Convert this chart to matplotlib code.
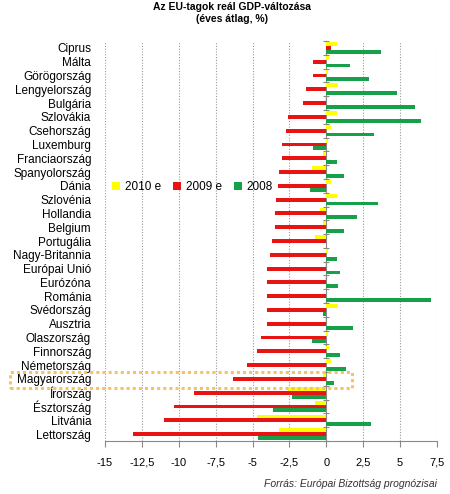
import numpy as np
import matplotlib
matplotlib.use("Agg")
import matplotlib.pyplot as plt
from matplotlib.patches import Rectangle

plt.rcParams['font.family'] = ['Liberation Sans', 'DejaVu Sans']

countries = ["Ciprus", "Málta", "Görögország", "Lengyelország", "Bulgária",
             "Szlovákia", "Csehország", "Luxemburg", "Franciaország",
             "Spanyolország", "Dánia", "Szlovénia", "Hollandia", "Belgium",
             "Portugália", "Nagy-Britannia", "Európai Unió", "Eurózóna",
             "Románia", "Svédország", "Ausztria", "Olaszország", "Finnország",
             "Németország", "Magyarország", "Írország", "Észtország",
             "Litvánia", "Lettország"]

gdp_2010 = [0.7, 0.2, 0.1, 0.8, -0.1, 0.7, 0.3, 0.1, -0.2, -1.0, 0.3, 0.7,
            -0.4, -0.2, -0.8, 0.1, -0.1, -0.1, 0.0, 0.8, -0.1, 0.1, 0.2,
            0.3, -0.2, -2.6, -0.8, -4.7, -3.2]
gdp_2009 = [0.3, -0.9, -0.9, -1.4, -1.6, -2.6, -2.7, -3.0, -3.0, -3.2, -3.3,
            -3.4, -3.5, -3.5, -3.7, -3.8, -4.0, -4.0, -4.0, -4.0, -4.0, -4.4,
            -4.7, -5.4, -6.3, -9.0, -10.3, -11.0, -13.1]
gdp_2008 = [3.7, 1.6, 2.9, 4.8, 6.0, 6.4, 3.2, -0.9, 0.7, 1.2, -1.1, 3.5,
            2.1, 1.2, 0.0, 0.7, 0.9, 0.8, 7.1, -0.2, 1.8, -1.0, 0.9, 1.3,
            0.5, -2.3, -3.6, 3.0, -4.6]

series = [("2010 e", gdp_2010, "#FFFF00"),
          ("2009 e", gdp_2009, "#E81414"),
          ("2008", gdp_2008, "#16A049")]

xticks = [-15, -12.5, -10, -7.5, -5, -2.5, 0, 2.5, 5, 7.5]

fig = plt.figure(figsize=(4.5, 4.94), dpi=100)
ax = fig.add_axes([105 / 450, 1 - 441 / 494, 332 / 450, 400 / 494])

y = np.arange(len(countries))
h = 0.28
for i, (name, vals, col) in enumerate(series):
    ax.barh(y + (i - 1) * h, vals, height=h, color=col, label=name, zorder=3)

ax.set_xlim(-15, 7.5)
ax.set_ylim(len(countries) - 0.5, -0.5)
ax.set_xticks(xticks)
ax.set_xticklabels([f"{t:g}".replace(".", ",") for t in xticks], fontsize=8)
ax.tick_params(axis="x", direction="out", length=4, color="#888888", pad=8)
ax.set_yticks(y)
ax.set_yticklabels(countries, fontsize=8.5)
ax.tick_params(axis="y", length=0, pad=10)

for t in xticks:
    if t != 0:
        ax.axvline(t, color="#999999", lw=0.8, ls=(0, (1, 1.5)), zorder=1)

for s in ["top", "right", "left"]:
    ax.spines[s].set_visible(False)
ax.spines["bottom"].set_color("#888888")

# zero axis with category tick marks
zero = ax.secondary_yaxis(15 / 22.5)
zero.set_yticks(np.arange(len(countries) + 1) - 0.5)
zero.set_yticklabels([])
zero.tick_params(direction="inout", length=4, color="#888888")
zero.spines["right"].set_color("#888888")
zero.spines["left"].set_color("#888888")

ax.legend(loc="center left", bbox_to_anchor=(0.0, 0.635), ncol=3, frameon=False,
          fontsize=8.5, handlelength=0.7, handleheight=0.7, columnspacing=1.0,
          handletextpad=0.4, borderaxespad=0.2)

# highlight box around Magyarország
fig.add_artist(Rectangle((10 / 450, 1 - 388 / 494), 342 / 450, 16 / 494,
                         transform=fig.transFigure, fill=False,
                         ec="#F6C264", lw=2.2, ls=(0, (1, 1)), zorder=5))

fig.text(232 / 450, 1 - 13 / 494, "Az EU-tagok reál GDP-változása\n(éves átlag, %)",
         ha="center", va="center", fontsize=7.5, fontweight="bold",
         linespacing=1.15)
fig.text(437 / 450, 1 - 484 / 494, "Forrás: Európai Bizottság prognózisai",
         ha="right", va="center", fontsize=7.5, style="italic", color="#333333")

fig.savefig("out.png", dpi=100)
